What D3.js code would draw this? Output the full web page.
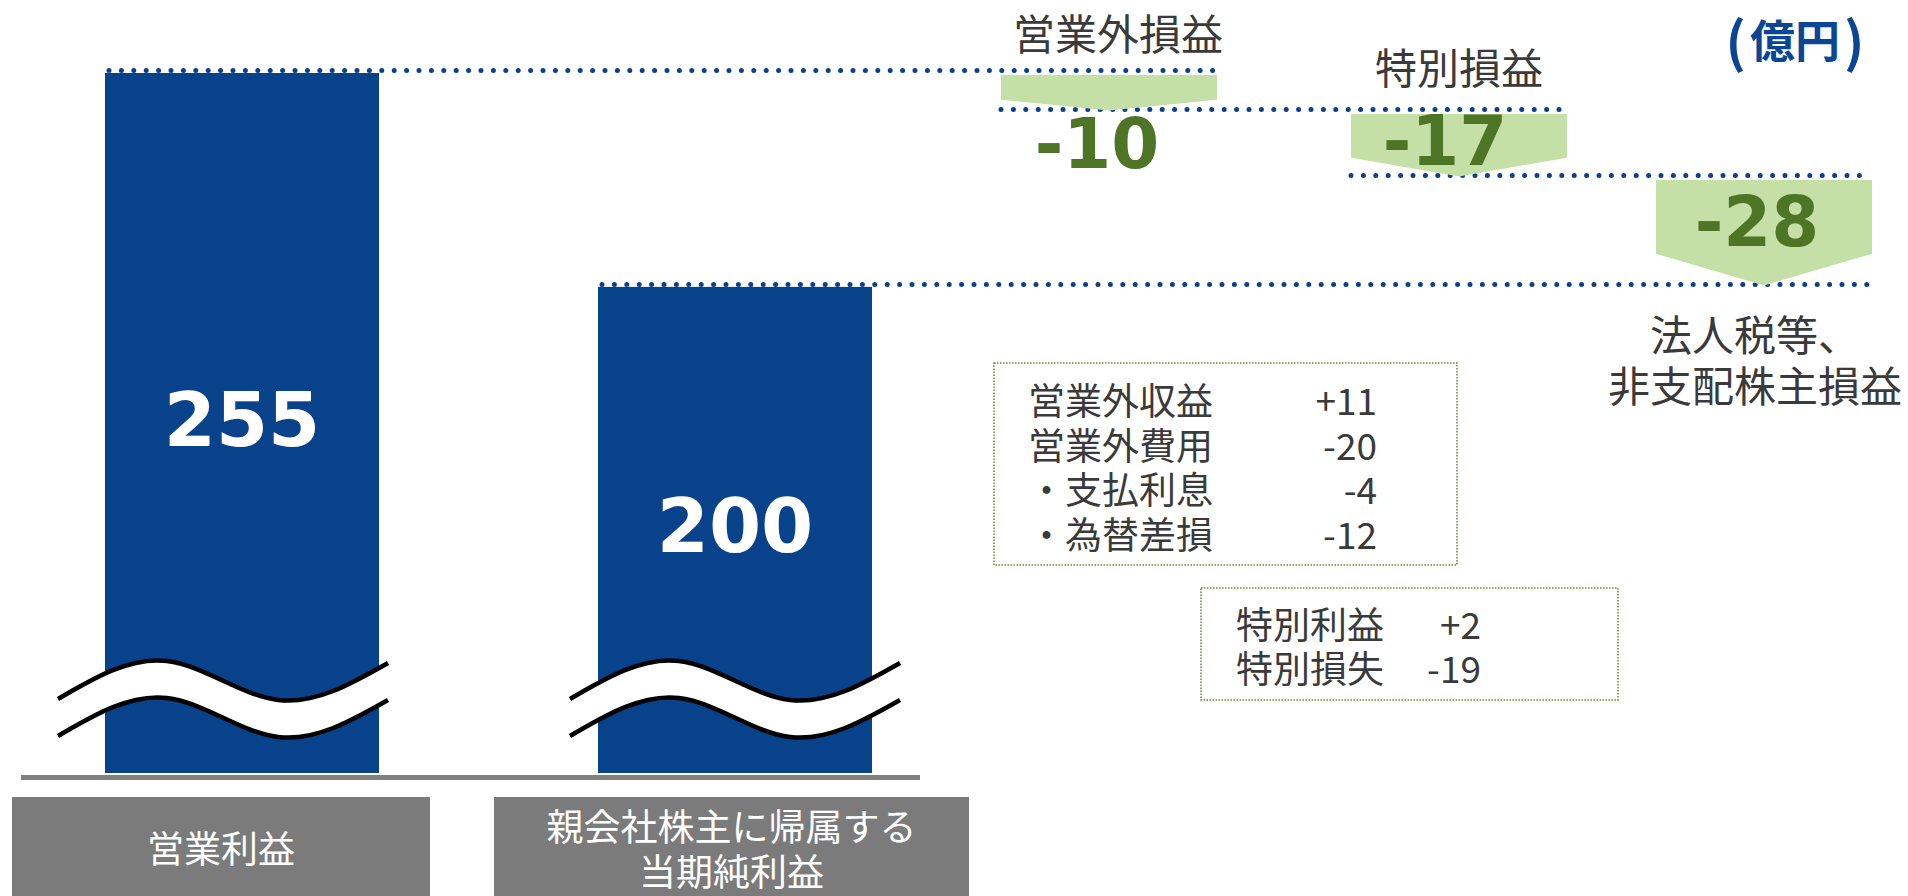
<!DOCTYPE html>
<html>
<head>
<meta charset="utf-8">
<script src="https://cdn.jsdelivr.net/npm/d3@7"></script>
<style>
  html, body { margin: 0; padding: 0; background: #ffffff; }
  svg { display: block; }
</style>
</head>
<body>
<svg id="chart" width="1908" height="896"></svg>
<script>
// ---------------- DATA ----------------
const categories = ["営業利益", "親会社株主に帰属する\n当期純利益"];
const barValues = [255, 200];

const stepNames = ["営業外損益", "特別損益", "法人税等、\n非支配株主損益"];
const stepValues = [-10, -17, -28];

const box1Labels = ["営業外収益", "営業外費用", "・支払利息", "・為替差損"];
const box1Values = ["+11", "-20", "-4", "-12"];
const box2Labels = ["特別利益", "特別損失"];
const box2Values = ["+2", "-19"];

const unitLabel = ["(", "億円", ")"];

// ---------------- LAYOUT / STYLE ----------------
const W = 1908, H = 896;
const C = {
  bar: "#08428b",
  dot: "#0b3f8f",
  arrow: "#c5e0a6",
  green: "#4e7526",
  boxBorder: "#5f8f2f",
  labelBox: "#7b7b7b",
  base: "#808080",
  text: "#3a3a3a",
  unit: "#0b4595"
};
const JP = "'Noto Sans CJK JP', 'Noto Sans', sans-serif";
const NUM = "'DejaVu Sans', Verdana, sans-serif";

const svg = d3.select("#chart");

// y scale (axis broken: bottom of plot represents the break floor)
const y = d3.scaleLinear().domain([75, 255]).range([773, 73]);

// x scale for the two bars
const x = d3.scaleBand().domain(categories).range([105, 872]).paddingInner(0.4442).paddingOuter(0);

// waterfall step positions (centres of the arrows)
const stepX = d3.scaleOrdinal().domain(stepNames).range([1109, 1459, 1764]);
const arrowW = 216;

// cumulative levels
const levels = [barValues[0]];
stepValues.forEach(v => levels.push(levels[levels.length - 1] + v));

// ---------------- DOTTED LEVEL LINES ----------------
const arrowLeft = i => stepX(stepNames[i]) - arrowW / 2;
const arrowRight = i => stepX(stepNames[i]) + arrowW / 2;
const levelLines = [
  { v: levels[0], x0: x(categories[0]) + 4, x1: arrowRight(0) },
  { v: levels[1], x0: arrowLeft(0), x1: arrowRight(1) },
  { v: levels[2], x0: arrowLeft(1), x1: arrowRight(2) - 10 },
  { v: levels[3], x0: x(categories[1]) + 4, x1: arrowRight(2) + 5 }
];

// ---------------- BARS ----------------
svg.append("g").selectAll("rect").data(barValues).join("rect")
  .attr("x", (d, i) => x(categories[i]))
  .attr("y", d => y(d))
  .attr("width", x.bandwidth())
  .attr("height", d => y(75) - y(d))
  .attr("fill", C.bar);

svg.append("g").selectAll("line").data(levelLines).join("line")
  .attr("x1", d => d.x0).attr("x2", d => d.x1)
  .attr("y1", d => y(d.v) - 2.5).attr("y2", d => y(d.v) - 2.5)
  .attr("stroke", C.dot)
  .attr("stroke-width", 5)
  .attr("stroke-linecap", "round")
  .attr("stroke-dasharray", "0 12.4");

// bar value labels
const valueLabelY = [420, 526];
svg.append("g").selectAll("text").data(barValues).join("text")
  .attr("x", (d, i) => x(categories[i]) + x.bandwidth() / 2)
  .attr("y", (d, i) => valueLabelY[i])
  .attr("text-anchor", "middle")
  .attr("dominant-baseline", "central")
  .attr("font-family", NUM).attr("font-weight", "bold").attr("font-size", 75)
  .attr("fill", "#ffffff")
  .text(d => d);

// ---------------- BREAK MARKS ----------------
const waveCenters = [x(categories[0]) + x.bandwidth() / 2 - 19, x(categories[1]) + x.bandwidth() / 2];
const waveY = 680, waveGap = 37;
const wavePts = [[-165, 19], [-56, -19], [55, 20], [165, -17]];
waveCenters.forEach(cx => {
  const pts = wavePts.map(p => [cx + p[0], waveY + p[1]]);
  const area = d3.area().curve(d3.curveNatural)
    .x(d => d[0]).y0(d => d[1]).y1(d => d[1] + waveGap);
  svg.append("path").attr("d", area(pts)).attr("fill", "#ffffff");
  const line = d3.line().curve(d3.curveNatural);
  [0, waveGap].forEach(off => {
    svg.append("path")
      .attr("d", line(pts.map(p => [p[0], p[1] + off])))
      .attr("fill", "none").attr("stroke", "#000").attr("stroke-width", 4.5);
  });
});

// baseline
svg.append("rect").attr("x", 21).attr("y", 775).attr("width", 899).attr("height", 5).attr("fill", C.base);

// category label boxes
const labelBoxes = [[12, 430], [494, 969]];
const lb = svg.append("g");
categories.forEach((c, i) => {
  const [a, b] = labelBoxes[i];
  lb.append("rect").attr("x", a).attr("y", 797).attr("width", b - a).attr("height", H - 797).attr("fill", C.labelBox);
  const lines = c.split("\n");
  const cy = 847, lh = 45;
  lines.forEach((t, j) => {
    lb.append("text")
      .attr("x", (a + b) / 2)
      .attr("y", cy + (j - (lines.length - 1) / 2) * lh)
      .attr("text-anchor", "middle").attr("dominant-baseline", "central")
      .attr("font-family", JP).attr("font-size", 37).attr("fill", "#ffffff")
      .text(t);
  });
});

// ---------------- WATERFALL ARROWS ----------------
const ag = svg.append("g");
stepValues.forEach((v, i) => {
  const cx = stepX(stepNames[i]);
  const top = y(levels[i]) + 2;
  const tip = y(levels[i + 1]) - 1.5;
  const shoulder = tip - 0.3 * (tip - top);
  const l = cx - arrowW / 2, r = cx + arrowW / 2;
  ag.append("path")
    .attr("d", `M${l},${top}L${r},${top}L${r},${shoulder}L${cx},${tip}L${l},${shoulder}Z`)
    .attr("fill", C.arrow);
});

// step value labels
const stepValuePos = [[1097, 144], [1445, 141], [1757, 222]];
svg.append("g").selectAll("text").data(stepValues).join("text")
  .attr("x", (d, i) => stepValuePos[i][0])
  .attr("y", (d, i) => stepValuePos[i][1])
  .attr("text-anchor", "middle").attr("dominant-baseline", "central")
  .attr("font-family", NUM).attr("font-weight", "bold").attr("font-size", 69)
  .attr("fill", C.green)
  .text(d => d);

// step names
const stepNamePos = [[1118, 31], [1459, 65], [1755, 332]];
stepNames.forEach((n, i) => {
  const lines = n.split("\n");
  lines.forEach((t, j) => {
    svg.append("text")
      .attr("x", stepNamePos[i][0])
      .attr("y", stepNamePos[i][1] + j * 51)
      .attr("text-anchor", "middle").attr("dominant-baseline", "central")
      .attr("font-family", JP).attr("font-size", 42).attr("fill", C.text)
      .text(t);
  });
});

// unit label
const unit = svg.append("text")
  .attr("x", 1795).attr("y", 38)
  .attr("text-anchor", "middle").attr("dominant-baseline", "central")
  .attr("font-family", JP).attr("font-weight", "bold")
  .attr("fill", C.unit);
unit.selectAll("tspan").data(unitLabel).join("tspan")
  .attr("font-size", (d, i) => i === 1 ? 45 : 54)
  .attr("dx", (d, i) => i === 0 ? 0 : 4)
  .text(d => d);

// ---------------- DETAIL BOXES ----------------
function detailBox(x0, y0, x1, y1, labels, values, lx, vx, rowY0, rowH) {
  const g = svg.append("g");
  g.append("rect")
    .attr("x", x0).attr("y", y0).attr("width", x1 - x0).attr("height", y1 - y0)
    .attr("fill", "none").attr("stroke", C.boxBorder).attr("stroke-width", 1.5)
    .attr("stroke-dasharray", "1.5 1.5");
  labels.forEach((t, i) => {
    g.append("text").attr("x", lx).attr("y", rowY0 + i * rowH)
      .attr("dominant-baseline", "central")
      .attr("font-family", JP).attr("font-size", 37).attr("fill", C.text)
      .text(t);
    g.append("text").attr("x", vx).attr("y", rowY0 + i * rowH)
      .attr("text-anchor", "end").attr("dominant-baseline", "central")
      .attr("font-family", JP).attr("font-size", 37).attr("fill", C.text)
      .text(values[i]);
  });
}
detailBox(994, 363, 1457, 565, box1Labels, box1Values, 1028, 1377, 399, 44.5);
detailBox(1201, 588, 1618, 700, box2Labels, box2Values, 1236, 1481, 623, 44);
</script>
</body>
</html>
